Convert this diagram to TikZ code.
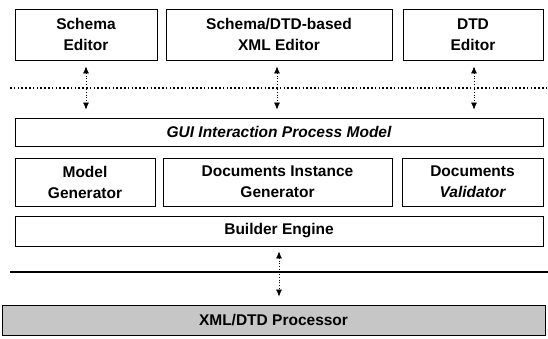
\documentclass[tikz,border=0pt]{standalone}
\usepackage{fontspec}
\setmainfont{Liberation Sans}
\usepackage{tikz}
\usetikzlibrary{arrows.meta,calc}

\begin{document}
\begin{tikzpicture}[
  x=1pt,y=-1pt,
  font=\fontsize{15.5}{21}\selectfont\bfseries,
  box/.style={draw,line width=0.8pt,align=center,inner sep=2pt},
  proc/.style={draw,line width=0.8pt,align=center,inner sep=2pt,fill=gray!45},
  link/.style={<->,dotted,line width=0.7pt,shorten <=6pt,shorten >=8pt},
  >={Latex[length=7pt,width=6pt]}
]
\useasboundingbox (0,0) rectangle (548,338);
% ---- Editors ----
\node[box,minimum width=142,minimum height=51] (schemaed) at (86,34.5) {Schema\\Editor};
\node[box,minimum width=226,minimum height=51] (xmled) at (279,34.5) {Schema/DTD-based\\XML Editor};
\node[box,minimum width=140,minimum height=51] (dtded) at (473,34.5) {DTD\\Editor};
% ---- Process model ----
\node[box,minimum width=528,minimum height=28] (gui) at (279,132)
  {\itshape GUI Interaction Process Model};
% ---- Generators ----
\node[box,minimum width=140,minimum height=48] (modelgen) at (85,182) {Model\\Generator};
\node[box,minimum width=229,minimum height=48] (docgen) at (277.5,182)
  {Documents Instance\\Generator};
\node[box,minimum width=141,minimum height=48] (docval) at (472.5,182)
  {Documents\\\itshape Validator};
\node[box,minimum width=528,minimum height=30] (builder) at (279,231) {Builder Engine};
% ---- Processor ----
\node[proc,minimum width=543,minimum height=30] (xmlproc) at (273.5,320)
  {XML/DTD Processor};
% ---- Separators ----
\coordinate (sepa) at (10,88);
\coordinate (sepb) at (548,88);
\coordinate (sepc) at (10,272);
\coordinate (sepd) at (548,272);
\draw[line width=1.6pt,dash pattern=on 1.6pt off 2.2pt] (sepa) -- (sepb);
\draw[line width=1.6pt] (sepc) -- (sepd);
% ---- Edges ----
\draw[link] (schemaed.south) -- (schemaed.south|-gui.north);
\draw[link] ([xshift=-2pt]xmled.south) -- ([xshift=-2pt]xmled.south|-gui.north);
\draw[link] ([xshift=1pt]dtded.south) -- ([xshift=1pt]dtded.south|-gui.north);
\draw[link,shorten <=5pt] (builder.south) -- (builder.south|-xmlproc.north);
\end{tikzpicture}
\end{document}
